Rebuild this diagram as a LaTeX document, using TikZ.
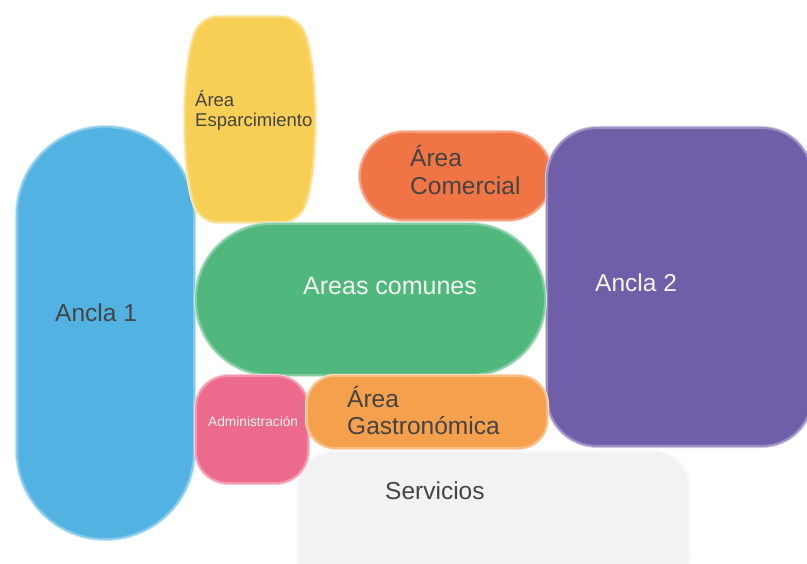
\documentclass[tikz,border=0pt]{standalone}
\usepackage{fontspec}
\setmainfont{Liberation Sans}
\definecolor{cblue}{HTML}{52B3E3}
\definecolor{cyellow}{HTML}{F8CF55}
\definecolor{cred}{HTML}{F07444}
\definecolor{cpurple}{HTML}{6F5EA8}
\definecolor{cgreen}{HTML}{50B87C}
\definecolor{cpink}{HTML}{EC6A8C}
\definecolor{corange}{HTML}{F5A04D}
\definecolor{cgrey}{HTML}{F1F2F3}
\definecolor{cdark}{HTML}{444444}
\definecolor{clight}{HTML}{F4F4F4}
\tikzset{
  halo/.style={draw=#1!30, line width=4pt},
  halob/.style={draw=#1!70, line width=2pt, fill=#1},
  darktxt/.style={text=cdark, inner sep=0pt, anchor=base west, align=left, font=\fontsize{24.5}{28}\selectfont},
  lighttxt/.style={text=clight, inner sep=0pt, anchor=base west, font=\fontsize{24.5}{28}\selectfont},
}
\newcommand{\blob}[2]{\path[halo=#1] #2; \path[halob=#1] #2;}
\begin{document}
\begin{tikzpicture}[x=1pt,y=-1pt]
\useasboundingbox (0,0) rectangle (807,564);
\clip (0,0) rectangle (807,564);
\fill[white] (0,0) rectangle (807,564);
% Servicios
\blob{cgrey}{[rounded corners=36pt] (298,452) rectangle (689,590)}
% Ancla 1
\blob{cblue}{[rounded corners=88pt] (17,127) rectangle (194,539)}
% Esparcimiento (barrel)
\blob{cyellow}{[rounded corners=14pt] (250,17) -- (296,17) .. controls (319,60) and (319,180) .. (296,222) -- (203,222) .. controls (181,180) and (181,60) .. (203,17) -- cycle}
% Comercial
\blob{cred}{[rounded corners=44pt] (360,132) rectangle (552,220)}
% Ancla 2
\blob{cpurple}{[rounded corners=50pt] (547,128) rectangle (812,446)}
% Areas comunes
\blob{cgreen}{[rounded corners=75pt] (196,224) rectangle (545,375)}
% Administracion
\blob{cpink}{[rounded corners=32pt] (196,376) rectangle (308,483)}
% Gastronomica
\blob{corange}{[rounded corners=28pt] (307,376) rectangle (547,448)}
% texts
\node[darktxt, font=\fontsize{18.5}{20}\selectfont] (tesp) at (195,127) {Área\\Esparcimiento};
\node[darktxt] (tcom) at (410,195) {Área\\Comercial};
\node[darktxt, font=\fontsize{24.5}{27}\selectfont] (tgas) at (347,435) {Área\\Gastronómica};
\node[darktxt] (tan1) at (55,322) {Ancla 1};
\node[darktxt] (tser) at (385,500) {Servicios};
\node[lighttxt] (tan2) at (595,292) {Ancla 2};
\node[lighttxt, font=\fontsize{25}{28}\selectfont] (tcomun) at (303,295) {Areas comunes};
\node[lighttxt, font=\fontsize{13.7}{15}\selectfont] (tadm) at (208,427) {Administración};
\end{tikzpicture}
\end{document}
